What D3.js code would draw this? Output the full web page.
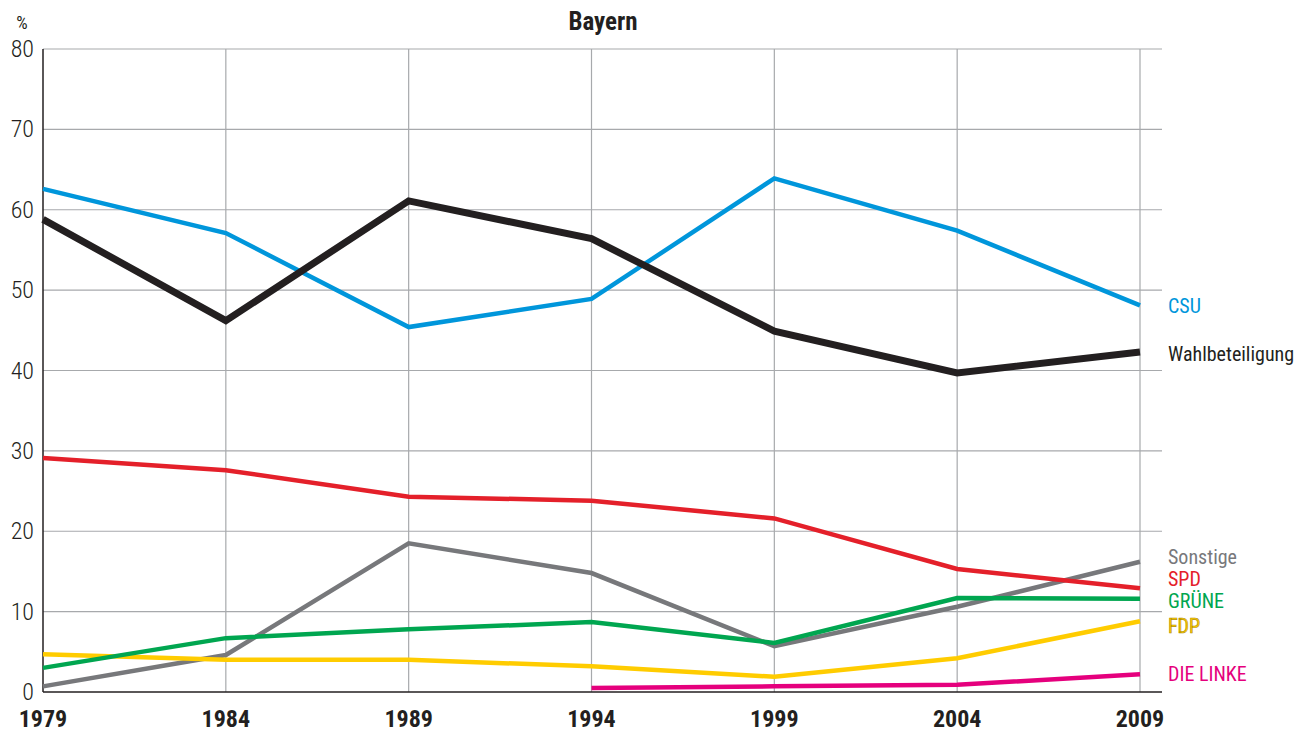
<!DOCTYPE html>
<html>
<head>
<meta charset="utf-8">
<script src="https://cdn.jsdelivr.net/npm/d3@7"></script>
<style>
  body { margin: 0; background: #fff; }
  text { font-family: "Liberation Sans Narrow", "Arial Narrow", "Roboto Condensed", sans-serif; }
</style>
</head>
<body>
<div id="canvas"></div>
<script>
"use strict"

/* Data */
let years = [1979, 1984, 1989, 1994, 1999, 2004, 2009];
let yTicks = [0, 10, 20, 30, 40, 50, 60, 70, 80];

let csu       = [62.6, 57.1, 45.4, 48.9, 63.9, 57.4, 48.1];
let wahl      = [58.8, 46.2, 61.1, 56.4, 44.9, 39.7, 42.3];
let spd       = [29.1, 27.6, 24.3, 23.8, 21.6, 15.3, 12.9];
let sonstige  = [0.7, 4.6, 18.5, 14.8, 5.7, 10.6, 16.2];
let gruene    = [3.0, 6.7, 7.8, 8.7, 6.1, 11.7, 11.6];
let fdp       = [4.7, 4.0, 4.0, 3.2, 1.9, 4.2, 8.8];
let linke     = [null, null, null, 0.5, 0.7, 0.9, 2.2];

let seriesNames = ["Sonstige", "FDP", "GRÜNE", "DIE LINKE", "SPD", "CSU", "Wahlbeteiligung"];
let seriesValues = [sonstige, fdp, gruene, linke, spd, csu, wahl];
let seriesColors = ["#77787b", "#ffcc00", "#00a650", "#e5007d", "#e4202a", "#0096db", "#231f20"];
let seriesWidths = [4.5, 4.5, 4.5, 4.5, 4.5, 4.5, 7];

/* label positions at the right (y in px) */
let labelY = {"CSU": 306, "Wahlbeteiligung": 354, "Sonstige": 557, "SPD": 579,
              "GRÜNE": 601, "FDP": 626, "DIE LINKE": 674};

let drawing = d3.select("#canvas")
    .append("svg")
    .attr("width", 1311)
    .attr("height", 733);

let plotLeft = 43, plotRight = 1140, plotTop = 49, plotBottom = 692, gridRight = 1162;

let x = d3.scaleLinear().domain([1979, 2009]).range([plotLeft, plotRight]);
let y = d3.scaleLinear().domain([0, 80]).range([plotBottom, plotTop]);

/* horizontal grid */
drawing.append("g")
    .selectAll("line")
    .data(yTicks.filter(d => d > 0))
    .join("line")
    .attr("x1", plotLeft).attr("x2", gridRight)
    .attr("y1", d => y(d)).attr("y2", d => y(d))
    .attr("stroke", "#a7a9ac")
    .attr("stroke-width", 1.2);

/* vertical grid */
drawing.append("g")
    .selectAll("line")
    .data(years.slice(1))
    .join("line")
    .attr("x1", d => x(d)).attr("x2", d => x(d))
    .attr("y1", plotTop).attr("y2", plotBottom)
    .attr("stroke", "#a7a9ac")
    .attr("stroke-width", 1.2);

/* axis lines */
drawing.append("line")
    .attr("x1", plotLeft).attr("x2", plotLeft)
    .attr("y1", plotTop).attr("y2", plotBottom)
    .attr("stroke", "#231f20").attr("stroke-width", 1.5);
drawing.append("line")
    .attr("x1", plotLeft).attr("x2", gridRight)
    .attr("y1", plotBottom).attr("y2", plotBottom)
    .attr("stroke", "#231f20").attr("stroke-width", 1.5);

/* y tick labels */
drawing.append("g")
    .selectAll("text")
    .data(yTicks)
    .join("text")
    .attr("x", 34)
    .attr("y", d => y(d) + 8)
    .attr("text-anchor", "end")
    .attr("font-size", 24)
    .attr("font-weight", 300)
    .attr("fill", "#231f20")
    .text(d => d);

drawing.append("text")
    .attr("x", 22).attr("y", 29)
    .attr("text-anchor", "middle")
    .attr("font-size", 18)
    .attr("fill", "#231f20")
    .text("%");

/* x tick labels */
drawing.append("g")
    .selectAll("text")
    .data(years)
    .join("text")
    .attr("x", d => x(d))
    .attr("y", 727)
    .attr("text-anchor", "middle")
    .attr("font-size", 24)
    .attr("font-weight", "bold")
    .attr("fill", "#231f20")
    .text(d => d);

/* title */
drawing.append("text")
    .attr("x", 603).attr("y", 30)
    .attr("text-anchor", "middle")
    .attr("font-size", 25)
    .attr("font-weight", "bold")
    .attr("fill", "#231f20")
    .text("Bayern");

/* lines */
let line = d3.line()
    .defined(d => d[1] !== null)
    .x(d => x(d[0]))
    .y(d => y(d[1]));

seriesNames.forEach((name, i) => {
    drawing.append("path")
        .datum(years.map((yr, j) => [yr, seriesValues[i][j]]))
        .attr("d", line)
        .attr("fill", "none")
        .attr("stroke", seriesColors[i])
        .attr("stroke-width", seriesWidths[i])
        .attr("stroke-linejoin", "miter");

    drawing.append("text")
        .attr("x", 1168)
        .attr("y", labelY[name] + 7)
        .attr("font-size", 20)
        .attr("fill", seriesColors[i])
        .attr("stroke", name === "FDP" ? "#b39000" : "none")
        .attr("stroke-width", 0.6)
        .text(name);
});
</script>
</body>
</html>
